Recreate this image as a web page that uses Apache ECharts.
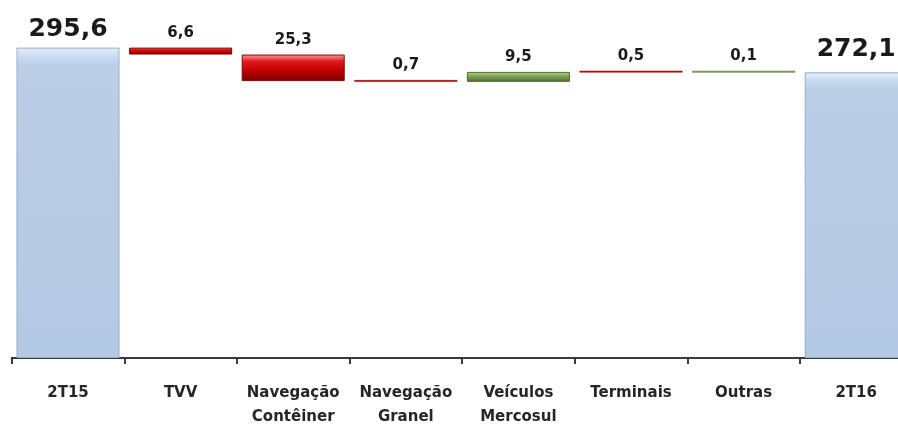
<!DOCTYPE html>
<html>
<head>
<meta charset="utf-8">
<script src="https://cdn.jsdelivr.net/npm/echarts@6/dist/echarts.min.js"></script>
<style>
  html, body { margin: 0; padding: 0; background: #fff; }
  #chart { width: 898px; height: 425px; }
</style>
</head>
<body>
<div id="chart"></div>
<script>
// dados do gráfico
const categories = ["2T15", "TVV", "Navegação\nContêiner", "Navegação\nGranel", "Veículos\nMercosul", "Terminais", "Outras", "2T16"];
const startTotal = 295.6;
const endTotal = 272.1;
const changes = [-6.6, -25.3, -0.7, 9.5, -0.5, 0.1];

const fmt = (v) => Math.abs(v).toFixed(1).replace(".", ",");

const blueFill = new echarts.graphic.LinearGradient(0, 0, 0, 1, [
  { offset: 0, color: "#e3eefa" },
  { offset: 0.03, color: "#c9dbf0" },
  { offset: 0.06, color: "#bacee6" },
  { offset: 1, color: "#b4c9e3" },
]);
const redFill = new echarts.graphic.LinearGradient(0, 0, 0, 1, [
  { offset: 0, color: "#f4a6a6" },
  { offset: 0.25, color: "#e21a1a" },
  { offset: 0.6, color: "#c00000" },
  { offset: 1, color: "#7a0000" },
]);
const greenFill = new echarts.graphic.LinearGradient(0, 0, 0, 1, [
  { offset: 0, color: "#b9d79a" },
  { offset: 0.35, color: "#8aad5c" },
  { offset: 1, color: "#4c6a2c" },
]);

// base invisível + barra visível (cascata)
const baseData = [0];
const shownData = [];
let running = startTotal;
shownData.push({
  value: startTotal,
  itemStyle: { color: blueFill, borderColor: "#93aecd", borderWidth: 1 },
  label: { fontSize: 25, distance: 6, formatter: fmt(startTotal) },
});
changes.forEach((c) => {
  const next = running + c;
  baseData.push(Math.min(running, next));
  shownData.push({
    value: Math.abs(c),
    itemStyle: c < 0
      ? { color: redFill, borderColor: "#8a0000", borderWidth: Math.abs(c) > 2 ? 1 : 0 }
      : { color: greenFill, borderColor: "#4c6a2c", borderWidth: Math.abs(c) > 2 ? 1 : 0 },
    label: { formatter: fmt(c) },
  });
  running = next;
});
baseData.push(0);
shownData.push({
  value: endTotal,
  itemStyle: { color: blueFill, borderColor: "#93aecd", borderWidth: 1 },
  label: { fontSize: 25, distance: 10, formatter: fmt(endTotal) },
});

const chart = echarts.init(document.getElementById("chart"));
chart.setOption({
  animation: false,
  grid: {
    left: 11.7,
    width: 900.8,
    top: 22,
    bottom: 67,
    containLabel: false,
    outerBoundsMode: "none",
  },
  xAxis: {
    type: "category",
    data: categories,
    axisLine: { lineStyle: { color: "#3a3a3a", width: 2 } },
    axisTick: { show: true, length: 6, lineStyle: { color: "#3a3a3a", width: 2 } },
    axisLabel: {
      interval: 0,
      margin: 23,
      color: "#262626",
      fontFamily: "DejaVu Sans",
      fontWeight: "bold",
      fontSize: 15,
      lineHeight: 24,
    },
  },
  yAxis: {
    type: "value",
    min: 0,
    max: 320,
    show: false,
    splitLine: { show: false },
  },
  series: [
    {
      type: "bar",
      stack: "wf",
      data: baseData,
      barCategoryGap: "8.5%",
      itemStyle: { color: "transparent" },
      silent: true,
    },
    {
      type: "bar",
      stack: "wf",
      data: shownData,
      barCategoryGap: "8.5%",
      barMinHeight: 2,
      label: {
        show: true,
        position: "top",
        distance: 7,
        color: "#1a1a1a",
        fontFamily: "DejaVu Sans",
        fontWeight: "bold",
        fontSize: 15,
      },
    },
  ],
});
</script>
</body>
</html>
